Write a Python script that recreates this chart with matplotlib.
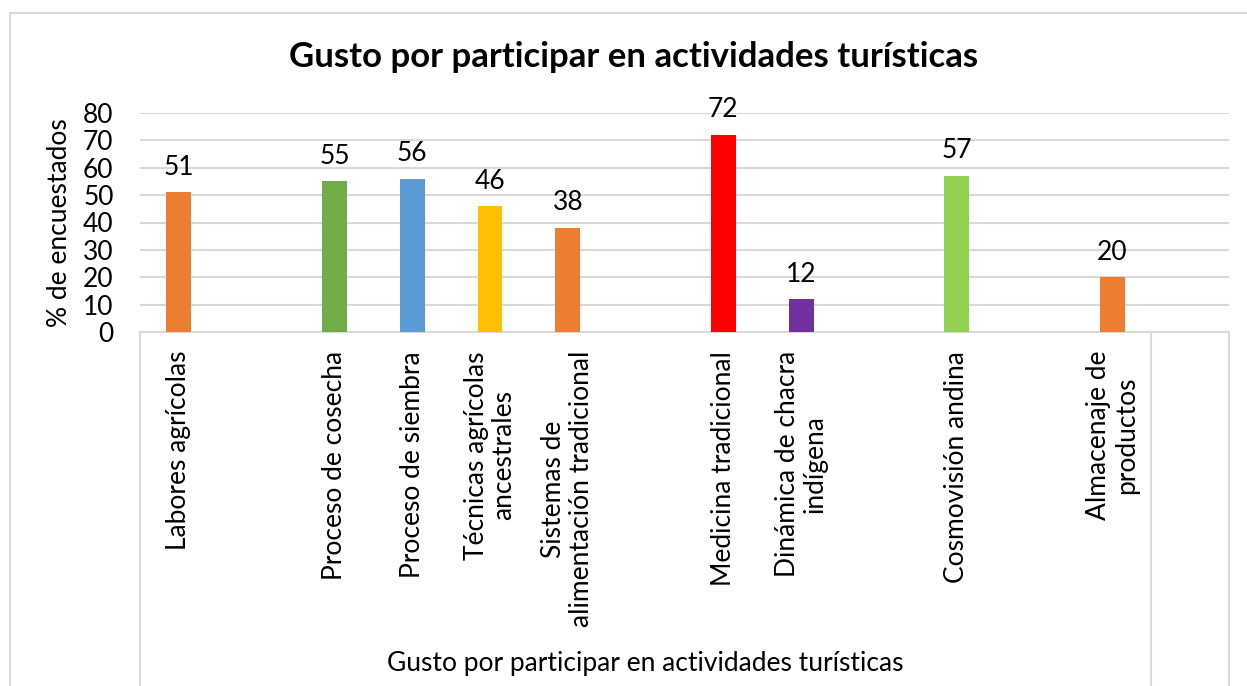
import matplotlib
matplotlib.use('Agg')
import matplotlib.pyplot as plt
import matplotlib.transforms as mtransforms
from matplotlib.lines import Line2D

plt.rcParams['font.family'] = ['Lato', 'DejaVu Sans']

# data
categorias = ['Labores agrícolas', '', 'Proceso de cosecha', 'Proceso de siembra',
              'Técnicas agrícolas\nancestrales', 'Sistemas de\nalimentación tradicional', '',
              'Medicina tradicional', 'Dinámica de chacra\nindígena', '', 'Cosmovisión andina', '',
              'Almacenaje de\nproductos', '']
valores = [51, None, 55, 56, 46, 38, None, 72, 12, None, 57, None, 20, None]
colores = ['#ED7D31', None, '#70AD47', '#5B9BD5', '#FFC000', '#ED7D31', None,
           '#FF0000', '#7030A0', None, '#92D050', None, '#ED7D31', None]
grupo = 'Gusto por participar en actividades turísticas'
titulo = 'Gusto por participar en actividades turísticas'
ylabel = '% de encuestados'

fig = plt.figure(figsize=(12.47, 6.86), dpi=100)
ax = fig.add_axes([140/1247, 1-332/686, (1229-140)/1247, (332-113)/686])

xs = [i for i, v in enumerate(valores) if v is not None]
vs = [v for v in valores if v is not None]
cs = [c for c in colores if c is not None]
bars = ax.bar(xs, vs, width=0.32, color=cs, zorder=3)
ax.bar_label(bars, labels=[str(v) for v in vs], padding=9, fontsize=19, color='black')

ax.set_xlim(-0.5, len(categorias) - 0.5)
ax.set_ylim(0, 80)
ax.set_yticks(range(0, 81, 10))
ax.tick_params(axis='y', length=0, pad=19, labelsize=19)
ax.set_xticks([])
ax.grid(axis='y', color='#D9D9D9', linewidth=1.5, zorder=0)
for s in ['top', 'right', 'left']:
    ax.spines[s].set_visible(False)
ax.spines['bottom'].set_color('#D9D9D9')
ax.spines['bottom'].set_linewidth(1.5)
ax.set_ylabel(ylabel, fontsize=19, labelpad=8)

# category labels (rotated)
tr = mtransforms.blended_transform_factory(ax.transData, fig.transFigure)
for i, lab in enumerate(categorias):
    if lab:
        ax.text(i, 1-351/686, lab, transform=tr, rotation=90, ha='center', va='top',
                multialignment='center', fontsize=19, linespacing=1.15)

# multi-level axis separators
for xv in [-0.5, len(categorias) - 1.5, len(categorias) - 0.5]:
    fig.add_artist(Line2D([xv, xv], [1-332/686, -0.1], transform=tr, color='#D9D9D9', linewidth=1.5))
ax.text((-0.5 + len(categorias) - 1.5) / 2, 1-663/686, grupo, transform=tr,
        ha='center', va='center', fontsize=19)

fig.text(634/1247, 1-57/686, titulo, ha='center', va='center', fontsize=25, fontweight='bold')

# outer border
fig.add_artist(Line2D([10/1247, 10/1247, 1.1], [-0.1, 1-13/686, 1-13/686],
                      transform=fig.transFigure, color='#D9D9D9', linewidth=1.5))

fig.savefig('out.png', dpi=100, facecolor='white')
